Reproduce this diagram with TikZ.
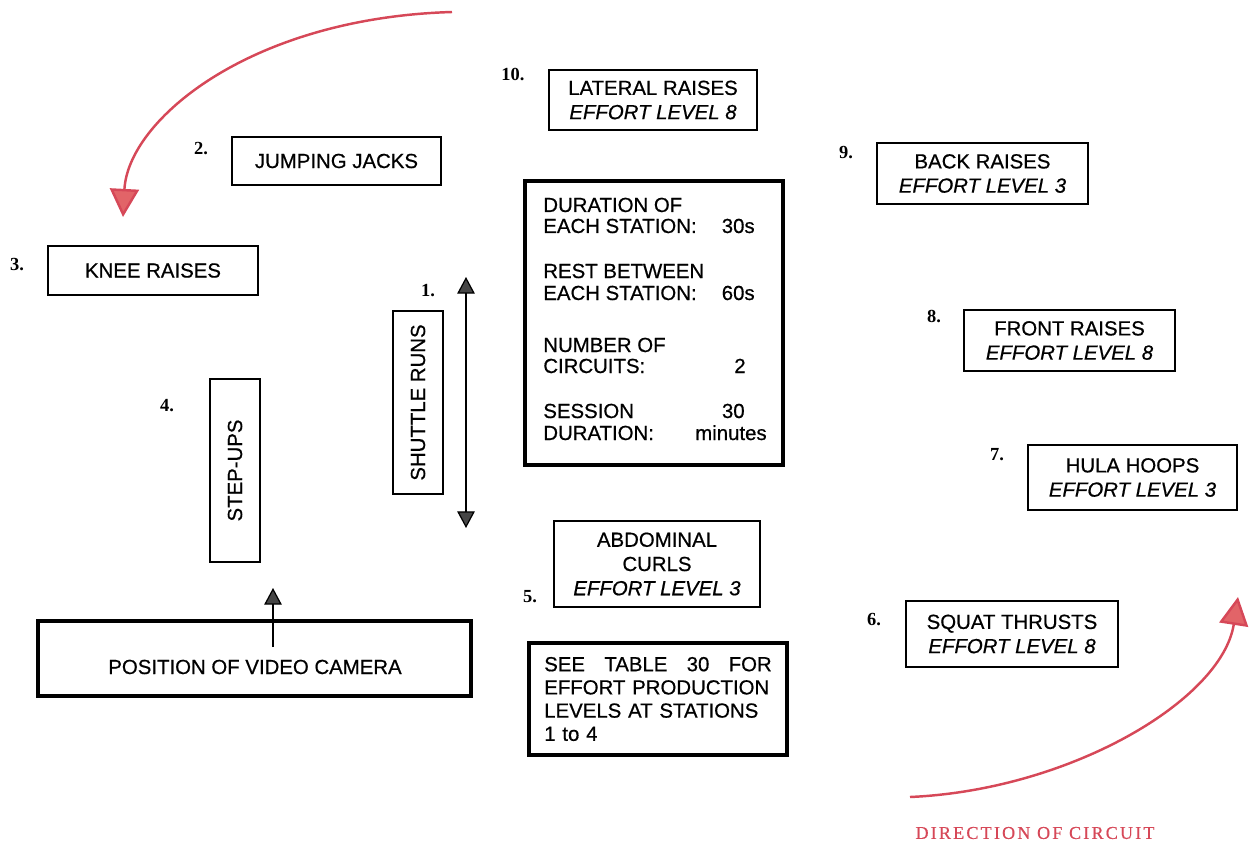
\documentclass[tikz,border=0pt]{standalone}
\usepackage{fontspec}
\setmainfont{Liberation Sans}[FakeBold=0.6]
\newfontfamily\numfont{Liberation Serif}
\newfontfamily\circfont[LetterSpace=12,FakeBold=0.5]{Liberation Serif}
\usetikzlibrary{arrows.meta}

\definecolor{circuitred}{RGB}{214,72,88}
\definecolor{headred}{RGB}{226,100,104}
\definecolor{headgray}{RGB}{70,70,70}

\tikzset{
    box/.style={draw, line width=0.9pt, align=center, inner sep=2pt,
        font=\fontsize{11.6}{13.8}\selectfont},
    thickbox/.style={box, line width=2.6pt},
    num/.style={font=\numfont\bfseries\fontsize{10.5}{12}\selectfont, inner sep=0pt},
    stat/.style={inner sep=0pt, font=\fontsize{11.6}{13.8}\selectfont},
    grayarrow/.style={line width=0.7pt, -{Triangle[length=9.5pt,width=10pt,fill=headgray]}},
    shuttlearrow/.style={line width=0.7pt,
        {Triangle[length=9.5pt,width=10pt,fill=headgray]}-{Triangle[length=9.5pt,width=10pt,fill=headgray]}},
    redarrow/.style={circuitred, line width=1.4pt,
        -{Triangle[length=16pt,width=16.5pt,fill=headred]}}
}

\begin{document}
\begin{tikzpicture}[x=0.02cm, y=-0.02cm]
\useasboundingbox (0,0) rectangle (1251,851);

% Stations
\node[box, minimum width=4.18cm, minimum height=0.96cm] (jumping) at (336.5,161) {JUMPING JACKS};
\node[box, minimum width=4.2cm, minimum height=0.98cm] (knee) at (153,270.5) {KNEE RAISES};
\node[box, minimum width=4.16cm, minimum height=1.2cm] (lateral) at (653,100) {LATERAL RAISES\\\itshape EFFORT LEVEL 8};
\node[box, minimum width=4.22cm, minimum height=1.22cm] (back) at (982.5,173.5) {BACK RAISES\\\itshape EFFORT LEVEL 3};
\node[box, minimum width=4.22cm, minimum height=1.22cm] (front) at (1069.5,340.5) {FRONT RAISES\\\itshape EFFORT LEVEL 8};
\node[box, minimum width=4.18cm, minimum height=1.3cm] (hula) at (1132.5,477.5) {HULA HOOPS\\\itshape EFFORT LEVEL 3};
\node[box, minimum width=4.24cm, minimum height=1.32cm] (squat) at (1012,634) {SQUAT THRUSTS\\\itshape EFFORT LEVEL 8};
\node[box, minimum width=4.12cm, minimum height=1.72cm] (abdominal) at (657,564) {ABDOMINAL\\CURLS\\\itshape EFFORT LEVEL 3};
\node[box, rotate=90, minimum width=3.66cm, minimum height=1cm] (stepups) at (235,470.5) {STEP-UPS};
\node[box, rotate=90, minimum width=3.66cm, minimum height=1cm] (shuttle) at (418,402.5) {SHUTTLE RUNS};

% Station numbers
\node[num] (n1) at (428,291) {1.};
\node[num] (n2) at (201,149) {2.};
\node[num] (n3) at (17,265) {3.};
\node[num] (n4) at (167,406) {4.};
\node[num] (n5) at (530,597) {5.};
\node[num] (n6) at (874,620) {6.};
\node[num] (n7) at (997,455) {7.};
\node[num] (n8) at (934,316) {8.};
\node[num] (n9) at (846,153) {9.};
\node[num] (n10) at (513,74) {10.};

% Session details
\node[thickbox, minimum width=5.16cm, minimum height=5.68cm] (stats) at (654,323) {};
\node[stat, anchor=base west] (s1) at (543,212) {DURATION OF};
\node[stat, anchor=base west] (s2) at (543,233) {EACH STATION:};
\node[stat, anchor=base east] (v2) at (755,233) {30s};
\node[stat, anchor=base west] (s3) at (543,278) {REST BETWEEN};
\node[stat, anchor=base west] (s4) at (543,300) {EACH STATION:};
\node[stat, anchor=base east] (v4) at (755,300) {60s};
\node[stat, anchor=base west] (s5) at (543,352) {NUMBER OF};
\node[stat, anchor=base west] (s6) at (543,373) {CIRCUITS:};
\node[stat, anchor=base east] (v6) at (746,373) {2};
\node[stat, anchor=base west] (s7) at (543,418) {SESSION};
\node[stat, anchor=base east] (v7) at (745,418) {30};
\node[stat, anchor=base west] (s8) at (543,440) {DURATION:};
\node[stat, anchor=base east] (v8) at (767,440) {minutes};

% Note on effort levels
\node[thickbox, minimum width=5.16cm, minimum height=2.24cm, text width=4.55cm, align=left,
    font=\fontsize{11.6}{13.2}\selectfont] (note) at (658,699)
    {SEE\hfill TABLE\hfill 30\hfill FOR\\EFFORT PRODUCTION\\LEVELS AT STATIONS\\1 to 4};

% Camera
\node[thickbox, minimum width=8.66cm, minimum height=1.5cm] (cam) at (254.5,658.5) {};
\node[stat, anchor=base] (camtext) at (255,674) {POSITION OF VIDEO CAMERA};
\coordinate (camtail) at (273,647);
\coordinate (camtip) at (273,588);
\draw[grayarrow] (camtail) -- (camtip);

% Shuttle run direction
\coordinate (runtop) at (466,277);
\coordinate (runbottom) at (466,528);
\draw[shuttlearrow] (runtop) -- (runbottom);

% Direction of circuit
\coordinate (topstart) at (452,12);
\coordinate (toptip) at (123,217);
\draw[redarrow] (topstart) .. controls (250,18) and (128,120) .. (toptip);
\coordinate (lowstart) at (910,797);
\coordinate (lowtip) at (1238,597);
\draw[redarrow] (lowstart) .. controls (1070,790) and (1222,700) .. (lowtip);
\node[circuitred, font=\circfont\fontsize{10.3}{12}\selectfont, inner sep=0pt] (direction) at (1035,833) {DIRECTION OF CIRCUIT};

\end{tikzpicture}
\end{document}
